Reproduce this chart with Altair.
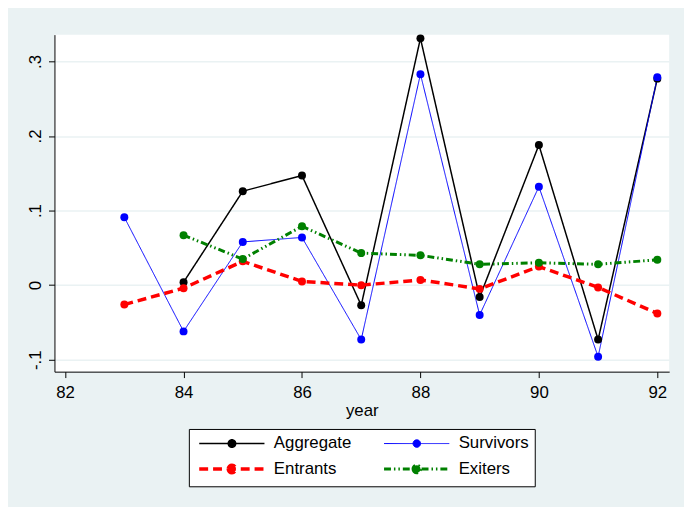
import altair as alt
import pandas as pd

# ---- data ----
years = [83, 84, 85, 86, 87, 88, 89, 90, 91, 92]
aggregate = [None, 0.004, 0.126, 0.147, -0.027, 0.331, -0.016, 0.188, -0.073, 0.277]
survivors = [0.091, -0.062, 0.058, 0.064, -0.073, 0.283, -0.040, 0.132, -0.096, 0.279]
entrants = [-0.026, -0.004, 0.032, 0.005, 0.000, 0.007, -0.005, 0.025, -0.003, -0.038]
exiters = [None, 0.067, 0.035, 0.079, 0.043, 0.040, 0.028, 0.030, 0.028, 0.034]

series_names = ["Aggregate", "Survivors", "Entrants", "Exiters"]
series_colors = ["#000000", "#0000FF", "#FF0000", "#008000"]
series_dash = [[1, 0], [1, 0], [9, 5], [7, 3, 1.5, 3, 1.5, 3]]
series_width = [1.5, 1.0, 3.5, 3.0]

x_ticks = [82, 84, 86, 88, 90, 92]
y_ticks = [-0.1, 0, 0.1, 0.2, 0.3]

rows = []
for name, vals in zip(series_names, [aggregate, survivors, entrants, exiters]):
    for yr, v in zip(years, vals):
        if v is not None:
            rows.append({"year": yr, "value": v, "series": name})
df = pd.DataFrame(rows)

FONT = "Liberation Sans"
BG = "#EAF2F3"

sym_path = "M-1,0H15.5M6.33,0A0.95,0.95,0,1,0,8.23,0A0.95,0.95,0,1,0,6.33,0Z"

leg = alt.Legend(
    title=None,
    orient="none",
    legendX=136,
    legendY=399,
    direction="horizontal",
    columns=2,
    symbolType=sym_path,
    symbolSize=64,
    labelFont=FONT,
    labelFontSize=17,
    labelColor="black",
    labelOffset=63,
    labelLimit=0,
    columnPadding=26,
    rowPadding=6,
    padding=6,
    strokeColor="black",
    fillColor="white",
    cornerRadius=0,
)

color_scale = alt.Scale(domain=series_names, range=series_colors)

x_enc = alt.X(
    "year:Q",
    scale=alt.Scale(domain=[81.82, 92.2], nice=False, zero=False),
    axis=alt.Axis(
        values=x_ticks,
        format="d",
        title="year",
        grid=False,
        tickSize=6,
        labelPadding=7,
        titlePadding=2,
    ),
)
y_enc = alt.Y(
    "value:Q",
    scale=alt.Scale(domain=[-0.116, 0.336], nice=False, zero=False),
    axis=alt.Axis(
        values=y_ticks,
        title=None,
        grid=True,
        gridColor=BG,
        gridWidth=1.5,
        tickSize=6,
        labelAngle=270,
        labelAlign="center",
        labelBaseline="alphabetic",
        labelPadding=8,
        labelExpr="datum.value == 0 ? '0' : replace(replace(format(datum.value, '.1f'), '0.', '.'), '\u2212', '-')",
    ),
)

base = alt.Chart(df).encode(x=x_enc, y=y_enc)

lines = base.mark_line().encode(
    color=alt.Color("series:N", scale=color_scale, legend=leg),
    strokeDash=alt.StrokeDash(
        "series:N",
        scale=alt.Scale(domain=series_names, range=series_dash),
        legend=leg,
    ),
    strokeWidth=alt.StrokeWidth(
        "series:N",
        scale=alt.Scale(type="ordinal", domain=series_names, range=series_width),
        legend=leg,
    ),
)

points = base.mark_point(filled=True, size=65, opacity=1).encode(
    color=alt.Color("series:N", scale=color_scale, legend=leg),
)

chart = (
    alt.layer(lines, points)
    .properties(
        width=622,
        height=341,
        autosize=alt.AutoSizeParams(type="none"),
        padding={"left": 47, "top": 24, "right": 15, "bottom": 134},
        background=BG,
    )
    .configure_view(stroke=None, fill="white")
    .configure_axis(
        labelFont=FONT,
        labelFontSize=17,
        labelColor="black",
        titleFont=FONT,
        titleFontSize=17,
        titleFontWeight="normal",
        titleColor="black",
        domainColor="black",
        domainWidth=1,
        tickColor="black",
        tickWidth=1,
    )
)

chart.save("out.html", embed_options={"renderer": "svg", "actions": False})
